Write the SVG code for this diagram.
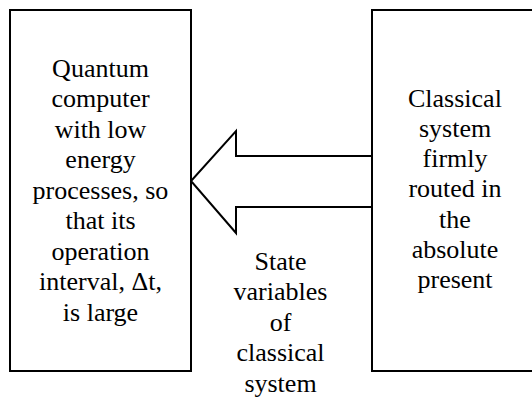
<svg xmlns="http://www.w3.org/2000/svg" width="532" height="399" viewBox="0 0 532 399">
<rect width="532" height="399" fill="#fff"/>
<g id="connectors">
<polyline points="372,156 236,156 236,131 191,181 236,233 236,207 372,207" fill="#fff" stroke="#000" stroke-width="2"/>
</g>
<g id="quantum">
<rect x="10" y="10" width="181" height="361" fill="#fff" stroke="#000" stroke-width="2"/>
<text x="100.5" y="76.5" font-family="Liberation Serif" font-size="26" text-anchor="middle">Quantum</text>
<text x="100.5" y="107" font-family="Liberation Serif" font-size="26" text-anchor="middle">computer</text>
<text x="100.5" y="137.5" font-family="Liberation Serif" font-size="26" text-anchor="middle">with low</text>
<text x="100.5" y="168" font-family="Liberation Serif" font-size="26" text-anchor="middle">energy</text>
<text x="100.5" y="198.5" font-family="Liberation Serif" font-size="26" text-anchor="middle">processes, so</text>
<text x="100.5" y="229" font-family="Liberation Serif" font-size="26" text-anchor="middle">that its</text>
<text x="100.5" y="259.5" font-family="Liberation Serif" font-size="26" text-anchor="middle">operation</text>
<text x="100.5" y="290" font-family="Liberation Serif" font-size="26" text-anchor="middle">interval, Δt,</text>
<text x="100.5" y="320.5" font-family="Liberation Serif" font-size="26" text-anchor="middle">is large</text>
</g>
<g id="classical">
<rect x="372" y="10" width="170" height="361" fill="#fff" stroke="#000" stroke-width="2"/>
<text x="408" y="106.5" font-family="Liberation Serif" font-size="26">Classical</text>
<text x="419" y="136.8" font-family="Liberation Serif" font-size="26">system</text>
<text x="422.5" y="167.1" font-family="Liberation Serif" font-size="26">firmly</text>
<text x="408.4" y="197.4" font-family="Liberation Serif" font-size="26">routed in</text>
<text x="439.1" y="227.7" font-family="Liberation Serif" font-size="26">the</text>
<text x="411.7" y="258" font-family="Liberation Serif" font-size="26">absolute</text>
<text x="417.5" y="288.3" font-family="Liberation Serif" font-size="26">present</text>
</g>
<text x="280.5" y="270" font-family="Liberation Serif" font-size="26" text-anchor="middle">State</text>
<text x="280.5" y="300.4" font-family="Liberation Serif" font-size="26" text-anchor="middle">variables</text>
<text x="280.5" y="330.8" font-family="Liberation Serif" font-size="26" text-anchor="middle">of</text>
<text x="280.5" y="361.2" font-family="Liberation Serif" font-size="26" text-anchor="middle">classical</text>
<text x="280.5" y="391.6" font-family="Liberation Serif" font-size="26" text-anchor="middle">system</text>
</svg>
